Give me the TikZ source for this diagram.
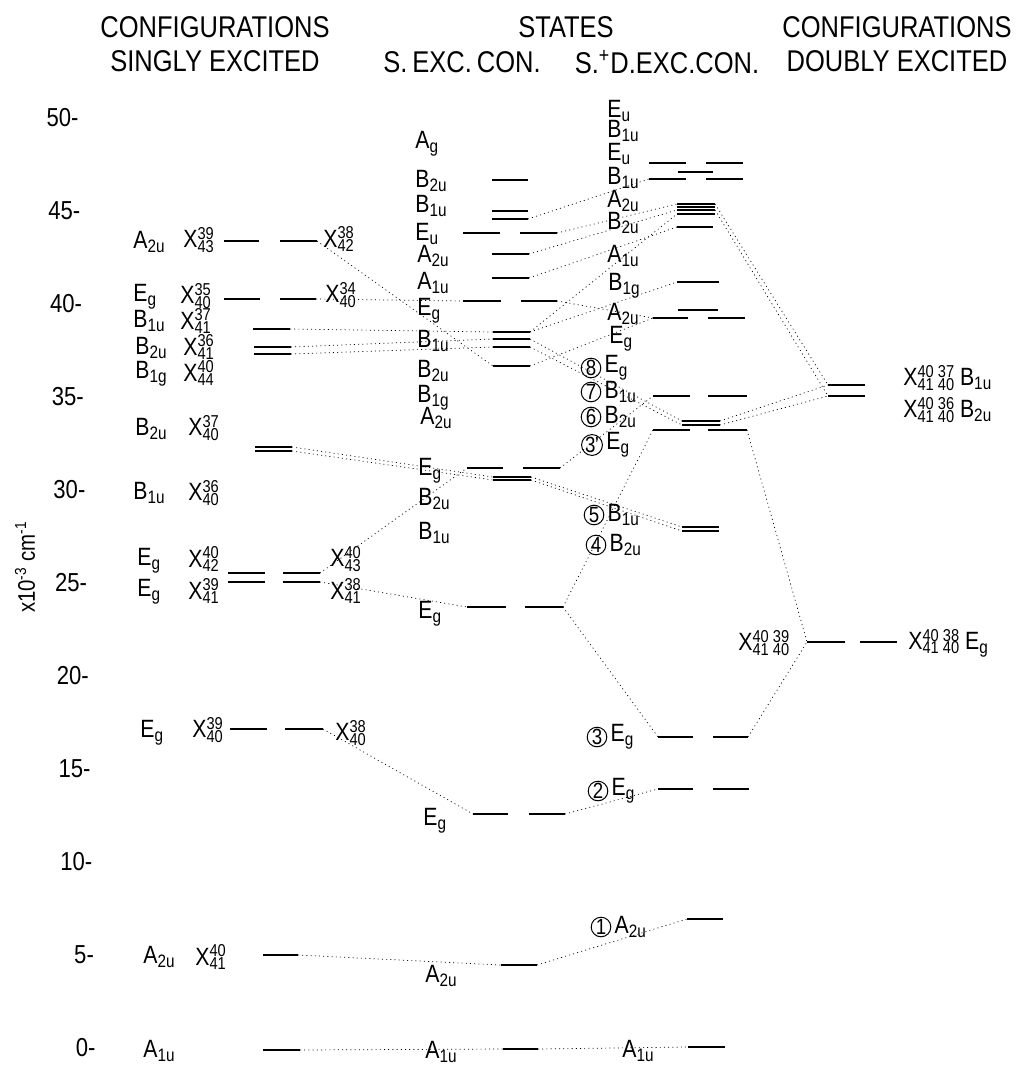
\documentclass[tikz,border=0pt]{standalone}
\usepackage{fontspec}
\setmainfont{Liberation Sans}[FakeStretch=0.85]
\usetikzlibrary{positioning}

% configuration symbol with stacked orbital numbers
\newcommand{\cf}[2]{X\rlap{\raisebox{4.1pt}{\fontsize{8.6}{9}\selectfont #1}}%
  \raisebox{-2.1pt}{\fontsize{8.6}{9}\selectfont #2}}
\newcommand{\sy}[2]{#1\raisebox{-1.8pt}{\fontsize{9}{9}\selectfont #2}}
% one bar, or a pair of bars (degenerate level)
\newcommand{\lvl}[4]{\draw[bar] (#2,#4) coordinate (#1-l) -- (#3,#4) coordinate (#1-r);}
\newcommand{\lvlpair}[6]{\draw[bar] (#2,#6) coordinate (#1-l) -- (#3,#6);
  \draw[bar] (#4,#6) -- (#5,#6) coordinate (#1-r);}

\begin{document}
\begin{tikzpicture}[x=0.5pt, y=-0.5pt,
    bar/.style={line width=1.3pt},
    link/.style={line width=0.35pt, dash pattern=on 0.5pt off 1.6pt},
    lab/.style={inner sep=0pt, anchor=west, font=\fontsize{12.5}{14}\selectfont},
    head/.style={inner sep=0pt, align=center, font=\fontsize{15}{17}\selectfont},
    tick/.style={inner sep=0pt, anchor=east, font=\fontsize{13}{14}\selectfont},
    circ/.style={circle, draw, line width=0.5pt, inner sep=0pt, minimum size=9.8pt,
                 font=\fontsize{11}{12}\selectfont}]
  \useasboundingbox (0,0) rectangle (1018,1065);

  % headings
  \node[head] (h1) at (215,44) {CONFIGURATIONS\\SINGLY EXCITED};
  \node[head] (h2) at (566,27) {STATES};
  \node[head] (h3) at (462,62) {S.\,EXC.\,CON.};
  \node[head] (h4) at (667,62) {S.\textsuperscript{+}D.EXC.CON.};
  \node[head] (h5) at (897,44) {CONFIGURATIONS\\DOUBLY EXCITED};

  % energy axis
  \foreach \v in {0,5,...,50}
    \node[tick] (t\v) at ({79+(50-\v)*0.34},{1048-18.6*\v}) {\v-};
  \node[rotate=90, inner sep=0pt, font=\fontsize{12}{14}\selectfont] (unit) at (25,567)
    {x10\textsuperscript{-3} cm\textsuperscript{-1}};

  % singly excited configurations
  \lvlpair{sa}{224}{259}{280}{317}{241}
  \lvlpair{sb}{224}{260}{280}{316}{299}
  \lvl{sc}{253}{290}{329}
  \lvl{sd}{254}{291}{347}
  \lvl{se}{254}{291}{354}
  \lvl{sf}{255}{292}{447}
  \lvl{sg}{255}{292}{451}
  \lvlpair{sh}{228}{265}{283}{320}{573}
  \lvlpair{si}{228}{265}{283}{320}{582}
  \lvlpair{sj}{230}{267}{285}{323}{729}
  \lvl{sk}{263}{298}{955}
  \lvl{sl}{263}{300}{1050}

  \node[lab] (sa1) at (133,242) {\sy{A}{2u}};
  \node[lab] (sa2) at (183,240) {\cf{39}{43}};
  \node[lab] (sa3) at (323,239) {\cf{38}{42}};
  \node[lab] (sb1) at (133,297) {\sy{E}{g}};
  \node[lab] (sb2) at (180,296) {\cf{35}{40}};
  \node[lab] (sb3) at (325,295) {\cf{34}{40}};
  \node[lab] (sc1) at (133,321) {\sy{B}{1u}};
  \node[lab] (sc2) at (180,321) {\cf{37}{41}};
  \node[lab] (sd1) at (135,348) {\sy{B}{2u}};
  \node[lab] (sd2) at (183,347) {\cf{36}{41}};
  \node[lab] (se1) at (135,374) {\sy{B}{1g}};
  \node[lab] (se2) at (183,373) {\cf{40}{44}};
  \node[lab] (sf1) at (135,429) {\sy{B}{2u}};
  \node[lab] (sf2) at (188,428) {\cf{37}{40}};
  \node[lab] (sg1) at (133,493) {\sy{B}{1u}};
  \node[lab] (sg2) at (188,493) {\cf{36}{40}};
  \node[lab] (sh1) at (137,561) {\sy{E}{g}};
  \node[lab] (sh2) at (188,559) {\cf{40}{42}};
  \node[lab] (sh3) at (330,559) {\cf{40}{43}};
  \node[lab] (si1) at (137,592) {\sy{E}{g}};
  \node[lab] (si2) at (188,591) {\cf{39}{41}};
  \node[lab] (si3) at (330,591) {\cf{38}{41}};
  \node[lab] (sj1) at (140,733) {\sy{E}{g}};
  \node[lab] (sj2) at (192,730) {\cf{39}{40}};
  \node[lab] (sj3) at (335,733) {\cf{38}{40}};
  \node[lab] (sk1) at (143,957) {\sy{A}{2u}};
  \node[lab] (sk2) at (195,957) {\cf{40}{41}};
  \node[lab] (sl1) at (143,1051) {\sy{A}{1u}};

  % states, singly excited configurations
  \lvl{ea}{492}{528}{180}
  \lvl{eb}{492}{528}{211}
  \lvl{ec}{492}{528}{219}
  \lvlpair{ed}{463}{500}{520}{557}{233}
  \lvl{ee}{492}{529}{254}
  \lvl{ef}{492}{529}{278}
  \lvlpair{eg}{463}{501}{521}{557}{301}
  \lvl{eh}{493}{530}{332}
  \lvl{ei}{493}{530}{339}
  \lvl{ej}{493}{530}{347}
  \lvl{ek}{493}{530}{366}
  \lvlpair{el}{467}{503}{523}{560}{468}
  \lvl{em}{493}{531}{477}
  \lvl{en}{493}{531}{480}
  \lvlpair{eo}{467}{506}{525}{563}{607}
  \lvlpair{ep}{473}{508}{529}{565}{814}
  \lvl{eq}{501}{537}{965}
  \lvl{er}{503}{538}{1049}

  \node[lab] (ea1) at (415,144) {\sy{A}{g}};
  \node[lab] (ea2) at (415,181) {\sy{B}{2u}};
  \node[lab] (ea3) at (415,206) {\sy{B}{1u}};
  \node[lab] (ea4) at (415,234) {\sy{E}{u}};
  \node[lab] (ea5) at (417,256) {\sy{A}{2u}};
  \node[lab] (ea6) at (417,283) {\sy{A}{1u}};
  \node[lab] (ea7) at (417,311) {\sy{E}{g}};
  \node[lab] (ea8) at (417,341) {\sy{B}{1u}};
  \node[lab] (ea9) at (417,371) {\sy{B}{2u}};
  \node[lab] (ea10) at (417,398) {\sy{B}{1g}};
  \node[lab] (ea11) at (420,418) {\sy{A}{2u}};
  \node[lab] (ea12) at (418,471) {\sy{E}{g}};
  \node[lab] (ea13) at (418,499) {\sy{B}{2u}};
  \node[lab] (ea14) at (418,533) {\sy{B}{1u}};
  \node[lab] (ea15) at (418,614) {\sy{E}{g}};
  \node[lab] (ea16) at (423,821) {\sy{E}{g}};
  \node[lab] (ea17) at (425,976) {\sy{A}{2u}};
  \node[lab] (ea18) at (425,1052) {\sy{A}{1u}};

  % states, singly + doubly excited configurations
  \lvlpair{da}{649}{686}{706}{743}{163}
  \lvl{db}{678}{713}{172}
  \lvlpair{dc}{649}{686}{706}{743}{179}
  \lvl{dd}{677}{715}{204}
  \lvl{de}{677}{715}{207}
  \lvl{df}{677}{715}{210}
  \lvl{dg}{677}{715}{214}
  \lvl{dh}{677}{713}{227}
  \lvl{di}{677}{719}{282}
  \lvl{dj}{678}{718}{310}
  \lvlpair{dk}{653}{688}{708}{745}{318}
  \lvlpair{dl}{653}{690}{708}{747}{396}
  \lvl{dm}{682}{720}{421}
  \lvl{dn}{682}{720}{425}
  \lvlpair{do}{653}{690}{708}{747}{430}
  \lvl{dp}{682}{719}{527}
  \lvl{dq}{682}{719}{531}
  \lvlpair{dr}{658}{693}{713}{748}{737}
  \lvlpair{ds}{658}{693}{713}{749}{789}
  \lvl{dt}{687}{723}{919}
  \lvl{du}{688}{725}{1047}

  \node[lab] (da1) at (607,111) {\sy{E}{u}};
  \node[lab] (da2) at (607,131) {\sy{B}{1u}};
  \node[lab] (da3) at (607,154) {\sy{E}{u}};
  \node[lab] (da4) at (607,178) {\sy{B}{1u}};
  \node[lab] (da5) at (607,201) {\sy{A}{2u}};
  \node[lab] (da6) at (607,223) {\sy{B}{2u}};
  \node[lab] (da7) at (607,256) {\sy{A}{1u}};
  \node[lab] (da8) at (608,286) {\sy{B}{1g}};
  \node[lab] (da9) at (607,314) {\sy{A}{2u}};
  \node[lab] (da10) at (609,339) {\sy{E}{g}};
  \node[circ] (n8) at (591,368) {8};
  \node[lab, right=1.5pt of n8] (da11) {\sy{E}{g}};
  \node[circ] (n7) at (591,392) {7};
  \node[lab, right=1.5pt of n7] (da12) {\sy{B}{1u}};
  \node[circ] (n6) at (591,417) {6};
  \node[lab, right=1.5pt of n6] (da13) {\sy{B}{2u}};
  \node[circ] (n3p) at (592,445) {3\kern-0.3pt'};
  \node[lab, right=1.5pt of n3p] (da14) {\sy{E}{g}};
  \node[circ] (n5) at (594,515) {5};
  \node[lab, right=1.5pt of n5] (da15) {\sy{B}{1u}};
  \node[circ] (n4) at (596,545) {4};
  \node[lab, right=1.5pt of n4] (da16) {\sy{B}{2u}};
  \node[circ] (n3) at (597,737) {3};
  \node[lab, right=1.5pt of n3] (da17) {\sy{E}{g}};
  \node[circ] (n2) at (598,791) {2};
  \node[lab, right=1.5pt of n2] (da18) {\sy{E}{g}};
  \node[circ] (n1) at (601,927) {1};
  \node[lab, right=1.5pt of n1] (da19) {\sy{A}{2u}};
  \node[lab] (da20) at (622,1051) {\sy{A}{1u}};

  % doubly excited configurations
  \lvl{xa}{828}{865}{385}
  \lvl{xb}{828}{865}{396}
  \lvlpair{xc}{807}{845}{860}{897}{642}
  \node[lab] (xa1) at (903,378) {\cf{40 37}{41 40} \sy{B}{1u}};
  \node[lab] (xb1) at (903,410) {\cf{40 36}{41 40} \sy{B}{2u}};
  \node[lab] (xc1) at (738,643) {\cf{40 39}{41 40}};
  \node[lab] (xc2) at (908,643) {\cf{40 38}{41 40} \sy{E}{g}};

  % correlation lines
  \draw[link] (sa-r) -- (ek-l);
  \draw[link] (sb-r) -- (eg-l);
  \draw[link] (sc-r) -- (eh-l);
  \draw[link] (sd-r) -- (ei-l);
  \draw[link] (se-r) -- (ej-l);
  \draw[link] (sf-r) -- (em-l);
  \draw[link] (sg-r) -- (en-l);
  \draw[link] (sh-r) -- (el-l);
  \draw[link] (si-r) -- (eo-l);
  \draw[link] (sj-r) -- (ep-l);
  \draw[link] (sk-r) -- (eq-l);
  \draw[link] (sl-r) -- (er-l);

  \draw[link] (ec-r) -- (dc-l);
  \draw[link] (ed-r) -- (dd-l);
  \draw[link] (ee-r) -- (df-l);
  \draw[link] (ef-r) -- (dh-l);
  \draw[link] (eg-r) -- (dk-l);
  \draw[link] (eh-r) -- (dg-l);
  \draw[link] (eh-r) -- (di-l);
  \draw[link] (ei-r) -- (dm-l);
  \draw[link] (ej-r) -- (dn-l);
  \draw[link] (ek-r) -- (dk-l);
  \draw[link] (el-r) -- (dl-l);
  \draw[link] (em-r) -- (dp-l);
  \draw[link] (en-r) -- (dq-l);
  \draw[link] (eo-r) -- (do-l);
  \draw[link] (eo-r) -- (dr-l);
  \draw[link] (ep-r) -- (ds-l);
  \draw[link] (eq-r) -- (dt-l);
  \draw[link] (er-r) -- (du-l);

  \draw[link] (dd-r) -- (xa-l);
  \draw[link] (df-r) -- (xb-l);
  \draw[link] (dm-r) -- (xa-l);
  \draw[link] (dn-r) -- (xb-l);
  \draw[link] (do-r) -- (xc-l);
  \draw[link] (dr-r) -- (xc-l);
\end{tikzpicture}
\end{document}
